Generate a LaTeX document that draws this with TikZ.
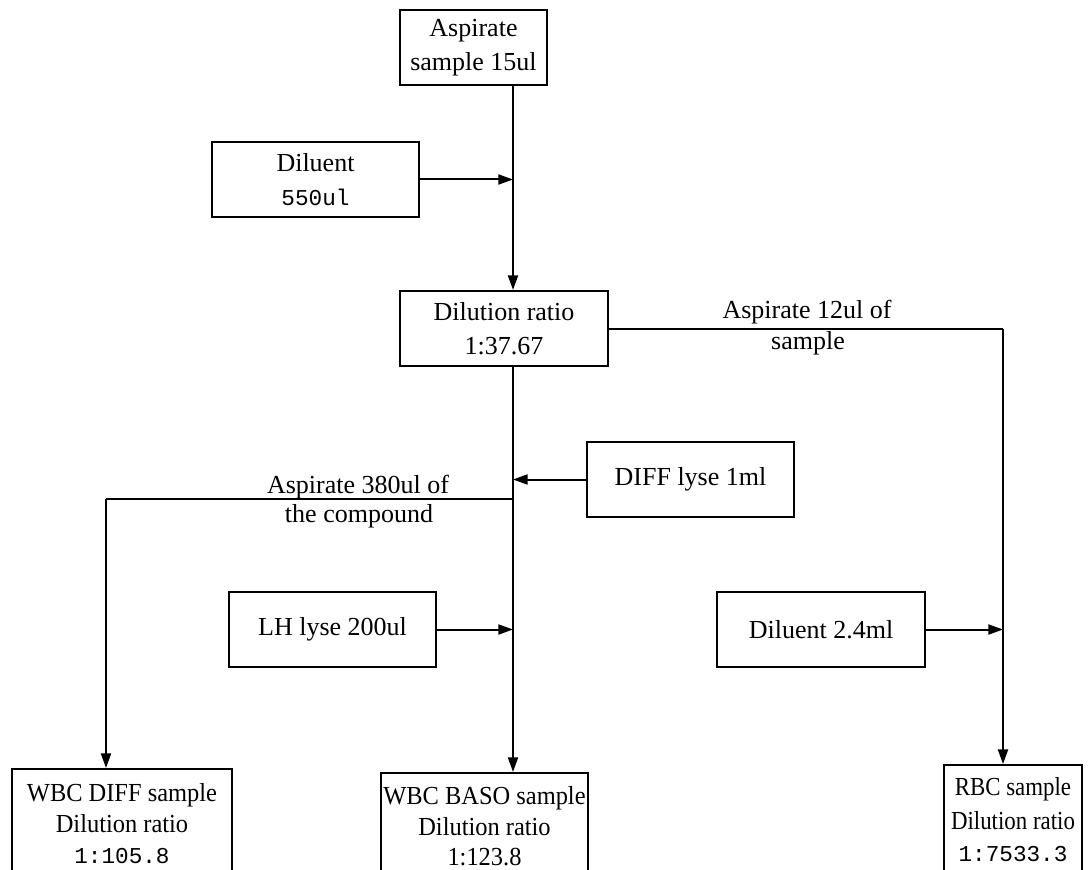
\documentclass[tikz,border=0pt]{standalone}
\usepackage{fontspec}
\setmainfont{Liberation Serif}
\setmonofont{Liberation Mono}
\newfontfamily\condfont{Liberation Serif}[FakeStretch=0.94]
\newfontfamily\narrowfont{Liberation Serif}[FakeStretch=0.88]
\usetikzlibrary{arrows.meta}
\newcommand{\mono}[1]{{\ttfamily\fontsize{17}{26}\selectfont #1}}
\tikzset{
  box/.style={draw, line width=1.5pt, align=center, inner sep=0pt, minimum height=56.25pt,
    font=\fontsize{19.5}{26}\selectfont},
  bbox/.style={box, font=\condfont\fontsize{19.5}{23}\selectfont},
  nbox/.style={box, font=\narrowfont\fontsize{19.5}{23}\selectfont},
  lbl/.style={align=center, inner sep=0pt, font=\fontsize{19.5}{24}\selectfont},
  conn/.style={line width=1.5pt},
  arr/.style={line width=1.5pt, -{Triangle[length=11pt,width=7.5pt]}},
}
\begin{document}
\begin{tikzpicture}[x=0.75pt,y=-0.75pt]
\useasboundingbox (0,0) rectangle (1092,870);
\clip (0,0) rectangle (1092,870);
% boxes
\node[box, minimum width=110.25pt] (top) at (473.5,47.5) {Aspirate\\sample 15ul};
\node[box, minimum width=155.25pt] (dil1) at (315.5,179.5) {Diluent\\\mono{550ul}};
\node[box, minimum width=156pt] (ratio) at (504,328.5) {Dilution ratio\\1:37.67};
\node[box, minimum width=155.25pt] (diff) at (690.5,479.5) {DIFF lyse 1ml};
\node[box, minimum width=155.25pt] (lh) at (332.5,629.5) {LH lyse 200ul};
\node[box, minimum width=156pt] (dil2) at (821,629.5) {Diluent 2.4ml};
\node[bbox, minimum width=165pt, minimum height=82pt] (wdiff) at (122,823.7)
  {WBC DIFF sample\\Dilution ratio\\\mono{1:105.8}};
\node[bbox, minimum width=155.25pt, minimum height=80pt] (wbaso) at (484.5,826.3)
  {WBC BASO sample\\Dilution ratio\\1:123.8};
\node[nbox, minimum width=103.5pt, minimum height=82pt] (rbc) at (1013,819.7)
  {RBC sample\\[3pt]Dilution ratio\\[1pt]\mono{1:7533.3}};
% junction coordinates
\coordinate (m) at (513,0);
\coordinate (r) at (1003,0);
\coordinate (l) at (106,0);
\coordinate (j1) at (513,179.5);
\coordinate (jdiff) at (513,479.5);
\coordinate (jsplit) at (513,499);
\coordinate (jleft) at (106,499);
\coordinate (jlh) at (513,629.5);
\coordinate (jr1) at (1003,328.5);
\coordinate (jr2) at (1003,629.5);
% connectors
\draw[arr] (top.south -| m) -- (ratio.north -| m);
\draw[arr] (dil1.east) -- (j1);
\draw[arr] (ratio.south -| m) -- (wbaso.north -| m);
\draw[arr] (diff.west) -- (jdiff);
\draw[conn] (jsplit) -- (jleft);
\draw[arr] (jleft) -- (wdiff.north -| l);
\draw[arr] (lh.east) -- (jlh);
\draw[conn] (ratio.east) -- (jr1);
\draw[arr] (jr1) -- (rbc.north -| r);
\draw[arr] (dil2.east) -- (jr2);
% labels
\node[lbl] (la1) at (807,312) {Aspirate 12ul of};
\node[lbl] (la2) at (808,343) {sample};
\node[lbl] (lb1) at (358,487) {Aspirate 380ul of};
\node[lbl] (lb2) at (359,516) {the compound};
\end{tikzpicture}
\end{document}
